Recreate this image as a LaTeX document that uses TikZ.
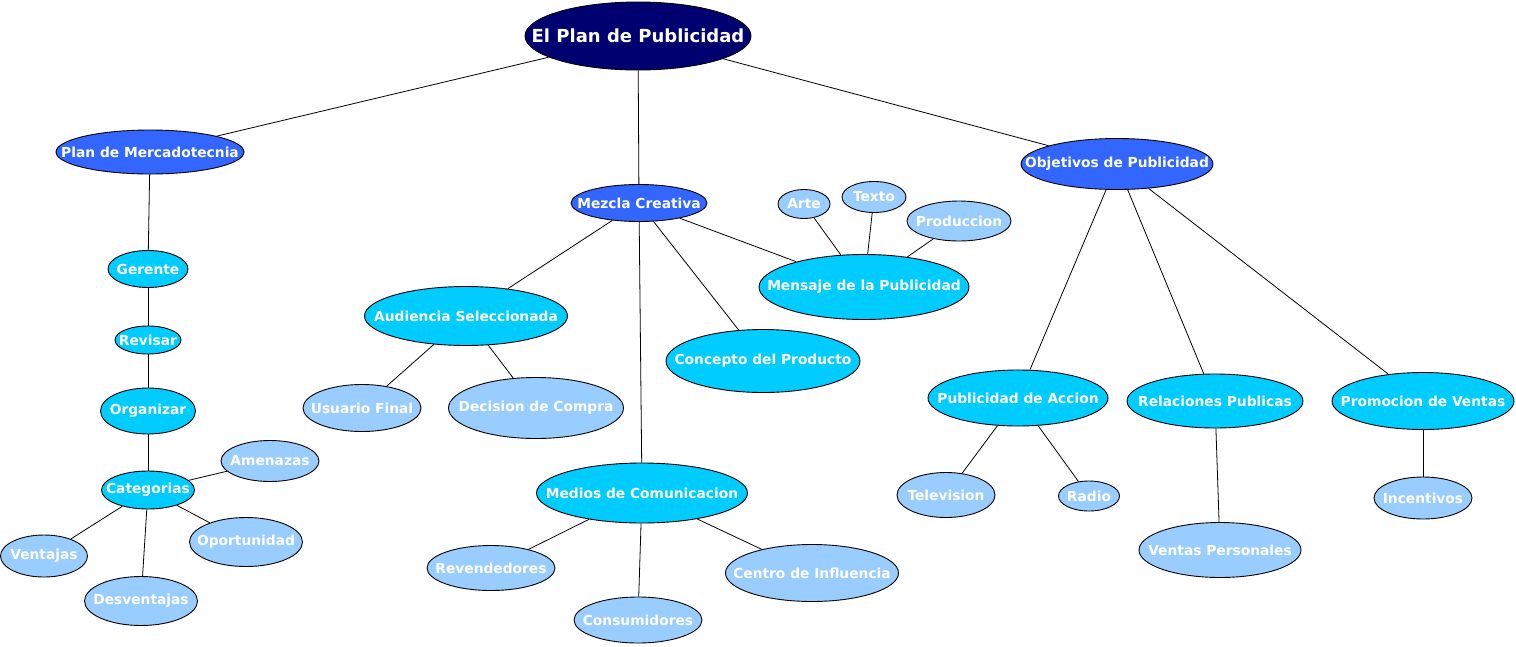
\documentclass[tikz,border=0pt]{standalone}
\usepackage{fontspec}
\setmainfont{DejaVu Sans}
\usetikzlibrary{shapes.geometric}
\definecolor{cnavy}{RGB}{0,0,112}
\definecolor{cblue}{RGB}{51,102,255}
\definecolor{ccyan}{RGB}{0,204,255}
\definecolor{clight}{RGB}{153,204,255}
\newcommand\ztxt[1]{\makebox[0pt]{#1}}
\tikzset{
  bub/.style={ellipse, draw=black, line width=0.9pt, inner sep=0pt, text=white,
    font=\fontsize{13.8}{16}\selectfont\bfseries},
  top/.style={bub, fill=cnavy, font=\fontsize{18}{21}\selectfont\bfseries},
  lvA/.style={bub, fill=cblue},
  lvB/.style={bub, fill=ccyan},
  lvC/.style={bub, fill=clight},
  link/.style={draw=black, line width=0.8pt},
}
\begin{document}
\begin{tikzpicture}[x=1pt,y=-1pt]
\useasboundingbox (0,0) rectangle (1516,646);
% nodes
\node[top, minimum width=226, minimum height=68] (root) at (638,36) {\ztxt{El Plan de Publicidad}};
\node[lvA, minimum width=188, minimum height=44] (plan) at (150,152) {\ztxt{Plan de Mercadotecnia}};
\node[lvA, minimum width=136, minimum height=37] (mezcla) at (639,203) {\ztxt{Mezcla Creativa}};
\node[lvA, minimum width=192, minimum height=51] (obj) at (1117,164) {\ztxt{Objetivos de Publicidad}};
\node[lvB, minimum width=80, minimum height=37] (gerente) at (148,269) {\ztxt{Gerente}};
\node[lvB, minimum width=66, minimum height=28] (revisar) at (148,340) {\ztxt{Revisar}};
\node[lvB, minimum width=95, minimum height=46] (organizar) at (148,411) {\ztxt{Organizar}};
\node[lvB, minimum width=93, minimum height=38] (categ) at (148,490) {\ztxt{Categorias}};
\node[lvC, minimum width=98, minimum height=41] (amen) at (270,461) {\ztxt{Amenazas}};
\node[lvC, minimum width=87, minimum height=42] (vent) at (44,556) {\ztxt{Ventajas}};
\node[lvC, minimum width=113, minimum height=49] (oport) at (246,542) {\ztxt{Oportunidad}};
\node[lvC, minimum width=113, minimum height=49] (desv) at (141,601) {\ztxt{Desventajas}};
\node[lvB, minimum width=203, minimum height=59] (aud) at (466,316) {\ztxt{Audiencia Seleccionada}};
\node[lvC, minimum width=118, minimum height=47] (usu) at (362,408) {\ztxt{Usuario Final}};
\node[lvC, minimum width=175, minimum height=61] (dec) at (536,408) {\ztxt{Decision de Compra}};
\node[lvB, minimum width=194, minimum height=63] (conc) at (763,361) {\ztxt{Concepto del Producto}};
\node[lvB, minimum width=210, minimum height=65] (mens) at (864,287) {\ztxt{Mensaje de la Publicidad}};
\node[lvC, minimum width=52, minimum height=29] (arte) at (804,204) {\ztxt{Arte}};
\node[lvC, minimum width=64, minimum height=31] (texto) at (874,197) {\ztxt{Texto}};
\node[lvC, minimum width=104, minimum height=40] (prod) at (959,221) {\ztxt{Produccion}};
\node[lvB, minimum width=211, minimum height=60] (medios) at (642,493) {\ztxt{Medios de Comunicacion}};
\node[lvC, minimum width=128, minimum height=45] (reven) at (491,568) {\ztxt{Revendedores}};
\node[lvC, minimum width=128, minimum height=46] (cons) at (638,620) {\ztxt{Consumidores}};
\node[lvC, minimum width=173, minimum height=57] (centro) at (812,573) {\ztxt{Centro de Influencia}};
\node[lvB, minimum width=180, minimum height=56] (pubacc) at (1018,398) {\ztxt{Publicidad de Accion}};
\node[lvC, minimum width=98, minimum height=45] (tele) at (946,495) {\ztxt{Television}};
\node[lvC, minimum width=61, minimum height=30] (radio) at (1089,496) {\ztxt{Radio}};
\node[lvB, minimum width=176, minimum height=54] (rel) at (1215,401) {\ztxt{Relaciones Publicas}};
\node[lvC, minimum width=162, minimum height=55] (ventp) at (1220,550) {\ztxt{Ventas Personales}};
\node[lvB, minimum width=182, minimum height=57] (promo) at (1423,401) {\ztxt{Promocion de Ventas}};
\node[lvC, minimum width=98, minimum height=42] (incen) at (1423,498) {\ztxt{Incentivos}};
% connectors
\draw[link] (root) -- (plan);
\draw[link] (root) -- (mezcla);
\draw[link] (root) -- (obj);
\draw[link] (plan) -- (gerente);
\draw[link] (gerente) -- (revisar);
\draw[link] (revisar) -- (organizar);
\draw[link] (organizar) -- (categ);
\draw[link] (categ) -- (amen);
\draw[link] (categ) -- (vent);
\draw[link] (categ) -- (oport);
\draw[link] (categ) -- (desv);
\draw[link] (mezcla) -- (aud);
\draw[link] (mezcla) -- (medios);
\draw[link] (mezcla) -- (conc);
\draw[link] (mezcla) -- (mens);
\draw[link] (aud) -- (usu);
\draw[link] (aud) -- (dec);
\draw[link] (mens) -- (arte);
\draw[link] (mens) -- (texto);
\draw[link] (mens) -- (prod);
\draw[link] (medios) -- (reven);
\draw[link] (medios) -- (cons);
\draw[link] (medios) -- (centro);
\draw[link] (obj) -- (pubacc);
\draw[link] (obj) -- (rel);
\draw[link] (obj) -- (promo);
\draw[link] (pubacc) -- (tele);
\draw[link] (pubacc) -- (radio);
\draw[link] (rel) -- (ventp);
\draw[link] (promo) -- (incen);
\end{tikzpicture}
\end{document}
